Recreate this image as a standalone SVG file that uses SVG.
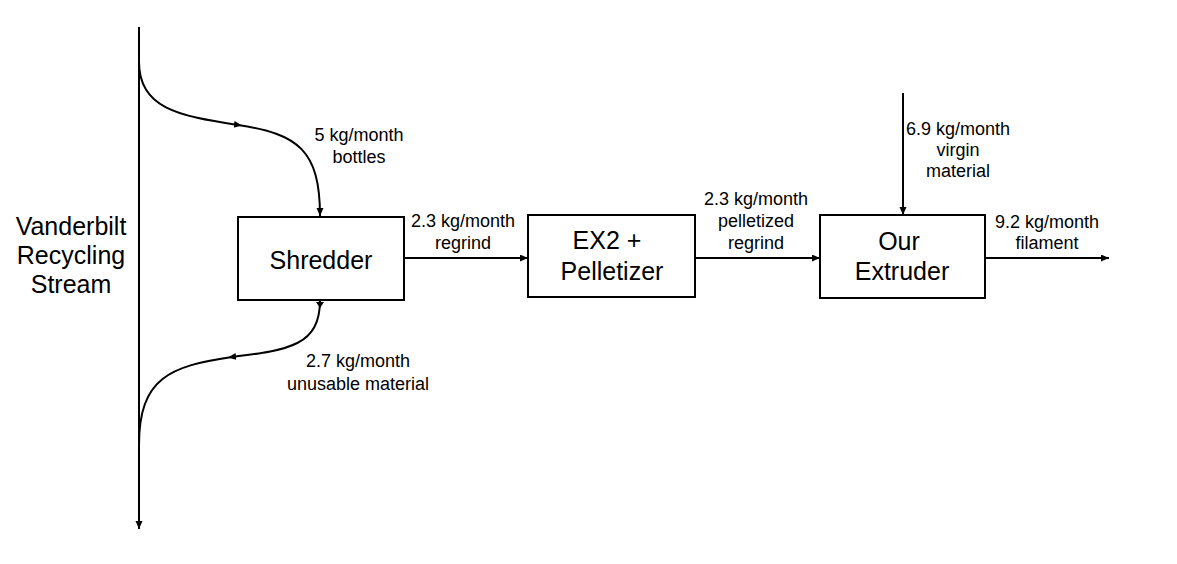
<svg xmlns="http://www.w3.org/2000/svg" width="1177" height="564" viewBox="0 0 1177 564">
<style>
.box{fill:#fff;stroke:#000;stroke-width:2}
.big{font-family:"Liberation Sans",Arial,sans-serif;font-size:25px;fill:#000;text-anchor:middle}
.sm{font-family:"Liberation Sans",Arial,sans-serif;font-size:18px;fill:#000;text-anchor:middle}
.ln{fill:none;stroke:#000;stroke-width:2}
</style>
<defs>
<marker id="ah" markerUnits="userSpaceOnUse" markerWidth="9" markerHeight="8" refX="8" refY="3.5" orient="auto">
<path d="M0,0 L8,3.5 L0,7 z" fill="#000"/>
</marker>
<marker id="am" markerUnits="userSpaceOnUse" markerWidth="9" markerHeight="8" refX="4" refY="3.5" orient="auto">
<path d="M0,0 L8,3.5 L0,7 z" fill="#000"/>
</marker>
</defs>
<rect width="1177" height="564" fill="#fff"/>
<g id="stream">
<text class="big" x="71" y="235">Vanderbilt</text>
<text class="big" x="71" y="264">Recycling</text>
<text class="big" x="71" y="293">Stream</text>
</g>
<g id="connectors">
<path class="ln" d="M139,27 L139,529" stroke-width="2.5" marker-end="url(#ah)"/>
<path class="ln" d="M139,62 C139,108 178,116 238,125 C298,134 320,150 320,216" marker-mid="url(#am)" marker-end="url(#ah)"/>
<path class="ln" d="M320,300 C320,345 290,350 232,357 C170,366 139,378 139,445" marker-mid="url(#am)"/>
<path d="M316,302 L324,302 L320,308 z" fill="#000"/>
<path class="ln" d="M404,258 L528,258" marker-end="url(#ah)"/>
<path class="ln" d="M695,258 L820,258" marker-end="url(#ah)"/>
<path class="ln" d="M985,258 L1109,258" marker-end="url(#ah)"/>
<path class="ln" d="M903,93 L903,215" marker-end="url(#ah)"/>
<text class="sm" x="359" y="141">5 kg/month</text>
<text class="sm" x="359" y="163">bottles</text>
<text class="sm" x="463" y="227">2.3 kg/month</text>
<text class="sm" x="463" y="249">regrind</text>
<text class="sm" x="756" y="205">2.3 kg/month</text>
<text class="sm" x="756" y="227">pelletized</text>
<text class="sm" x="756" y="249">regrind</text>
<text class="sm" x="958" y="135">6.9 kg/month</text>
<text class="sm" x="958" y="156">virgin</text>
<text class="sm" x="958" y="177">material</text>
<text class="sm" x="1047" y="228">9.2 kg/month</text>
<text class="sm" x="1047" y="249">filament</text>
<text class="sm" x="358" y="367">2.7 kg/month</text>
<text class="sm" x="358" y="390">unusable material</text>
</g>
<g id="shredder">
<rect class="box" x="238" y="217" width="166" height="83"/>
<text class="big" x="321" y="269">Shredder</text>
</g>
<g id="ex2">
<rect class="box" x="528" y="215" width="167" height="82"/>
<text class="big" x="607" y="249">EX2 +</text>
<text class="big" x="612" y="280">Pelletizer</text>
</g>
<g id="extruder">
<rect class="box" x="820" y="215" width="165" height="83"/>
<text class="big" x="899" y="250">Our</text>
<text class="big" x="902" y="280">Extruder</text>
</g>
</svg>
